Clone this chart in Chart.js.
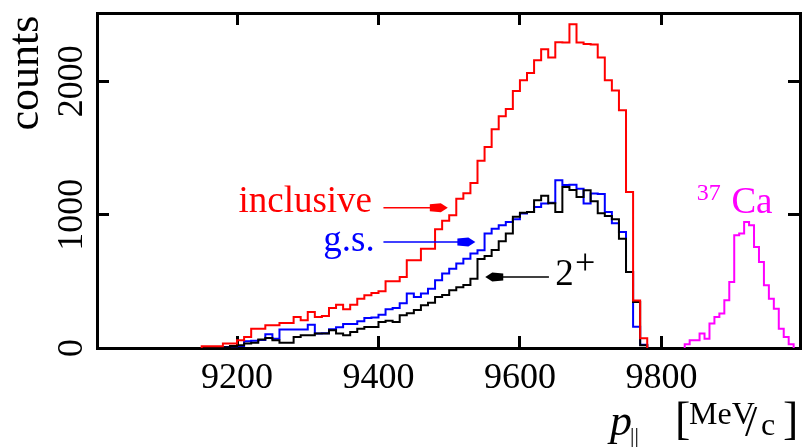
<!DOCTYPE html>
<html>
<head>
<meta charset="utf-8">
<script src="https://cdn.jsdelivr.net/npm/chart.js@4.4.0/dist/chart.umd.min.js"></script>
<style>
  html, body { margin: 0; padding: 0; background: #fff; }
</style>
</head>
<body>
<canvas id="momentumChart" width="802" height="447"></canvas>
<script>
// p_parallel spectra, 10 MeV/c bins starting at binStart
const binStart = 9150;
const binWidth = 10;
const inclusive = [
    13, 13, 13, 33, 33, 58, 83, 145, 145, 170,
    170, 188, 188, 233, 208, 270, 233, 240, 300, 325,
    290, 325, 370, 395, 413, 425, 500, 500, 533, 658,
    658, 745, 745, 890, 955, 995, 1120, 1160, 1238, 1405,
    1508, 1640, 1738, 1793, 1928, 2008, 2063, 2158, 2240, 2178,
    2292, 2290, 2427, 2290, 2280, 2276, 2178, 2008, 1930, 1783,
    1170, 356, 73
];
const groundState = [
    0, 0, 3, 8, 13, 15, 50, 55, 60, 103,
    70, 138, 138, 138, 138, 175, 108, 110, 140, 155,
    180, 180, 200, 225, 228, 250, 290, 300, 335, 408,
    383, 408, 445, 508, 558, 595, 633, 670, 708, 733,
    858, 895, 920, 945, 965, 1008, 1020, 1058, 1083, 1090,
    1258, 1222, 1225, 1195, 1083, 1158, 1155, 1020, 935, 870,
    570, 160, 25
];
const twoPlus = [
    0, 0, 0, 5, 15, 20, 33, 40, 63, 75,
    58, 40, 40, 83, 95, 95, 108, 108, 133, 108,
    95, 120, 145, 158, 158, 195, 205, 195, 245, 260,
    285, 320, 340, 383, 398, 433, 455, 472, 520, 668,
    690, 735, 800, 858, 985, 1015, 1020, 1108, 1142, 1085,
    1020, 1208, 1185, 1133, 1183, 1100, 1010, 990, 965, 820,
    570, 345, 20
];
// 37Ca peak, 7 MeV/c bins
const caStart = 9833;
const caWidth = 7;
const ca37 = [
    28, 58, 58, 108, 70, 183, 233, 258, 358, 495,
    845, 858, 945, 920, 758, 645, 470, 370, 295, 145,
    83, 28
];

const xTicks = [9200, 9400, 9600, 9800];
const yTicks = [0, 1000, 2000];
const xRange = [9002, 9996];
const yRange = [0, 2512];

const serif = '"Liberation Serif", "DejaVu Serif", serif';

// left bin edges -> step outline that starts and ends on zero
function histPoints(start, width, counts) {
    const pts = [{ x: start, y: 0 }];
    counts.forEach((c, i) => pts.push({ x: start + i * width, y: c }));
    pts.push({ x: start + counts.length * width, y: 0 });
    return pts;
}

function histogram(label, start, width, counts, color) {
    return {
        label: label,
        data: histPoints(start, width, counts),
        borderColor: color,
        borderWidth: 2,
        stepped: 'before',
        pointRadius: 0,
        fill: false,
        xAxisID: 'x',
        yAxisID: 'y'
    };
}

function arrow(ctx, x0, x1, y, color) {
    const dir = Math.sign(x1 - x0);
    ctx.strokeStyle = color;
    ctx.fillStyle = color;
    ctx.lineWidth = 1.5;
    ctx.beginPath();
    ctx.moveTo(x0, y);
    ctx.lineTo(x1 - dir * 10, y);
    ctx.stroke();
    ctx.beginPath();
    ctx.moveTo(x1, y);
    ctx.lineTo(x1 - dir * 7, y - 4.5);
    ctx.lineTo(x1 - dir * 18, y - 3.5);
    ctx.lineTo(x1 - dir * 18, y + 3.5);
    ctx.lineTo(x1 - dir * 7, y + 4.5);
    ctx.closePath();
    ctx.fill();
}

// rotated y labels, axis titles and the series annotations
const annotate = {
    id: 'annotate',
    afterDraw(chart) {
        const { ctx, chartArea } = chart;
        const sx = chart.scales.x, sy = chart.scales.y;
        const px = v => sx.getPixelForValue(v);
        const py = v => sy.getPixelForValue(v);
        ctx.save();
        ctx.textBaseline = 'alphabetic';

        ctx.fillStyle = '#000';
        ctx.font = '36px ' + serif;
        ctx.textAlign = 'center';
        yTicks.forEach(v => {
            ctx.save();
            ctx.translate(chartArea.left - 15, py(v));
            ctx.rotate(-Math.PI / 2);
            ctx.fillText(String(v), 0, 0);
            ctx.restore();
        });

        ctx.save();
        ctx.translate(38, 73);
        ctx.rotate(-Math.PI / 2);
        ctx.font = '44px ' + serif;
        ctx.fillText('counts', 0, 0);
        ctx.restore();

        // p_|| [MeV/c]
        ctx.textAlign = 'left';
        ctx.font = 'italic 44px ' + serif;
        ctx.fillText('p', 610, 435);
        ctx.font = '22px ' + serif;
        ctx.fillText('||', 630, 442);
        ctx.font = '46px ' + serif;
        ctx.fillText('[', 675, 434);
        ctx.fillText(']', 783, 434);
        ctx.font = '32px ' + serif;
        ctx.fillText('MeV', 689, 424);
        ctx.font = '44px ' + serif;
        ctx.fillText('/', 745, 436);
        ctx.font = '32px ' + serif;
        ctx.fillText('c', 761, 435);

        ctx.font = '37px ' + serif;
        ctx.fillStyle = '#ff0000';
        ctx.fillText('inclusive', px(9202), py(1018));
        arrow(ctx, px(9407), px(9498), py(1051), '#ff0000');

        ctx.fillStyle = '#0000ff';
        ctx.fillText('g.s.', px(9322), py(725));
        arrow(ctx, px(9407), px(9537), py(795), '#0000ff');

        ctx.fillStyle = '#000';
        ctx.fillText('2', px(9650), py(470));
        ctx.font = '36px ' + serif;
        ctx.fillText('+', px(9678), py(553));
        arrow(ctx, px(9641), px(9551), py(532), '#000');

        ctx.fillStyle = '#ff00ff';
        ctx.font = '24px ' + serif;
        ctx.fillText('37', px(9850), py(1108));
        ctx.font = '37px ' + serif;
        ctx.fillText('Ca', px(9899), py(1010));
        ctx.restore();
    }
};

const frameGrid = { drawOnChartArea: false, tickLength: -12, tickWidth: 3, tickColor: '#000' };
const frameBorder = { color: '#000', width: 3 };
const setTicks = list => scale => { scale.ticks = list.map(v => ({ value: v })); };

new Chart(document.getElementById('momentumChart'), {
    type: 'line',
    data: {
        datasets: [
            histogram('inclusive', binStart, binWidth, inclusive, '#ff0000'),
            histogram('2+', binStart, binWidth, twoPlus, '#000000'),
            histogram('g.s.', binStart, binWidth, groundState, '#0000ff'),
            histogram('37Ca', caStart, caWidth, ca37, '#ff00ff')
        ]
    },
    options: {
        responsive: false,
        animation: false,
        layout: { padding: 0 },
        plugins: { legend: { display: false }, tooltip: { enabled: false } },
        scales: {
            x: {
                type: 'linear', position: 'bottom',
                min: xRange[0], max: xRange[1],
                afterBuildTicks: setTicks(xTicks),
                afterFit: s => { s.height = 99; },
                grid: frameGrid, border: frameBorder,
                ticks: {
                    color: '#000', padding: 21, maxRotation: 0, autoSkip: false,
                    font: { family: serif, size: 36 },
                    callback: v => String(v)
                }
            },
            xTop: {
                type: 'linear', position: 'top',
                min: xRange[0], max: xRange[1],
                afterBuildTicks: setTicks(xTicks),
                afterFit: s => { s.height = 13; },
                grid: frameGrid, border: frameBorder,
                ticks: { display: false }
            },
            y: {
                type: 'linear', position: 'left',
                min: yRange[0], max: yRange[1],
                afterBuildTicks: setTicks(yTicks),
                afterFit: s => { s.width = 97; },
                grid: frameGrid, border: frameBorder,
                ticks: { display: false }
            },
            yRight: {
                type: 'linear', position: 'right',
                min: yRange[0], max: yRange[1],
                afterBuildTicks: setTicks(yTicks),
                afterFit: s => { s.width = 2; },
                grid: frameGrid, border: frameBorder,
                ticks: { display: false }
            }
        }
    },
    plugins: [annotate]
});
</script>
</body>
</html>
